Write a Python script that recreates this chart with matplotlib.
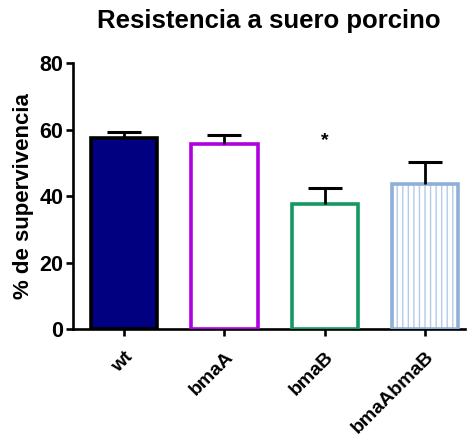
import matplotlib
matplotlib.use("Agg")
import matplotlib.pyplot as plt

plt.rcParams['font.family'] = ['Liberation Sans', 'DejaVu Sans']
plt.rcParams['font.weight'] = 'bold'
plt.rcParams['hatch.linewidth'] = 1.0

# Supervivencia en suero porcino (media y error estándar)
cepas = ["wt", "bmaA", "bmaB", "bmaAbmaB"]
supervivencia = [57.6, 55.6, 37.6, 43.6]
error = [1.6, 2.7, 4.8, 6.6]
bordes = ["#000000", "#b000e0", "#139a63", "#8eafd8"]
rellenos = ["#000080", "white", "white", "white"]

fig = plt.figure(figsize=(4.68, 4.36), dpi=100)
ax = fig.add_axes([0.156, 0.245, 0.838, 0.61])

x = list(range(len(cepas)))

# rayado vertical de la última barra, en un tono más claro que el borde
ax.bar(x[3], supervivencia[3], width=0.66, color="white", edgecolor="#b3cbe9",
       linewidth=0, hatch="|||", zorder=2)
ax.bar(x, supervivencia, width=0.66, color=[c if c != "white" else "none" for c in rellenos],
       edgecolor=bordes, linewidth=2.6, zorder=3)

# barras de error solo hacia arriba
eb = ax.errorbar(x, supervivencia, yerr=[[0] * 4, error], fmt="none", ecolor="black",
                 elinewidth=2.0, capsize=12.5, capthick=2.2, zorder=4)
eb[1][0].set_visible(False)

ax.text(2, 56.8, "*", ha="center", va="center", fontsize=14, fontweight="bold")

ax.set_xlim(-0.51, 3.40)
ax.set_ylim(0, 80)
ax.set_yticks([0, 20, 40, 60, 80])
ax.set_xticks(x)
ax.set_xticklabels(cepas, rotation=45, ha="right", rotation_mode="anchor", fontsize=14)

for s in ["top", "right"]:
    ax.spines[s].set_visible(False)
for s in ["left", "bottom"]:
    ax.spines[s].set_linewidth(1.9)
ax.tick_params(axis="both", width=1.9, length=5, labelsize=15.5, pad=2)
ax.tick_params(axis="x", pad=9, labelsize=14)

ax.set_ylabel("% de supervivencia", fontsize=16, fontweight="bold", labelpad=4)
ax.set_title("Resistencia a suero porcino", fontsize=18.5, fontweight="bold", pad=25)

fig.savefig("out.png", dpi=100)
